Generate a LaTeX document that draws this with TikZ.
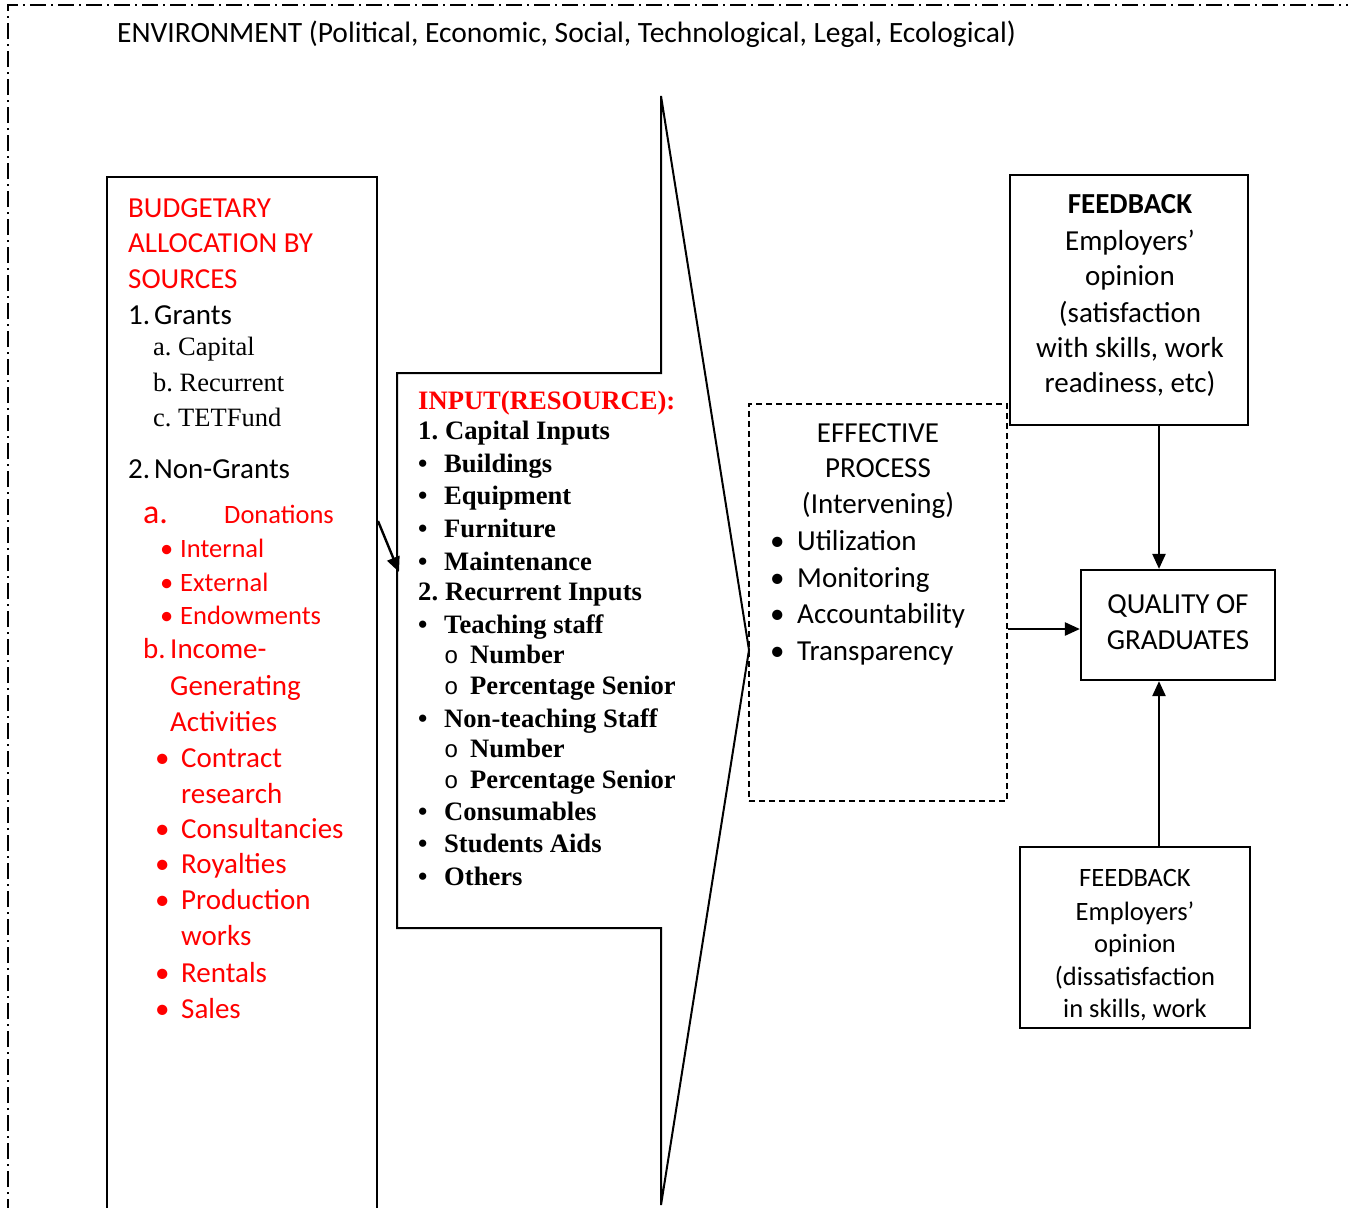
\documentclass[tikz,border=0pt]{standalone}
\usepackage{fontspec}
\setmainfont{Carlito}
\newfontfamily\tnr{Liberation Serif}
\newfontfamily\mymono{Liberation Mono}
\usetikzlibrary{arrows.meta}
\definecolor{wred}{RGB}{255,0,0}
\newcommand\fsz[1]{\fontsize{#1}{#1}\selectfont}
\frenchspacing
\begin{document}
\begin{tikzpicture}[x=1pt,y=-1pt,
  t/.style={inner sep=0pt, anchor=base west},
  tc/.style={inner sep=0pt, anchor=base},
  box/.style={draw, line width=2.2pt, inner sep=0pt},
  arr/.style={-{Triangle[length=15pt,width=13pt]}, line width=2.4pt},
  red/.style={text=wred},
  cal/.style={font=\fsz{29}},
  cals/.style={font=\fsz{26.5}},
  tb/.style={font=\tnr\bfseries\fsz{26.6}},
  tr/.style={font=\tnr\fsz{26.5}},
]
\useasboundingbox (0,0) rectangle (1348,1207);
\fill[white] (0,0) rectangle (1348,1207);

% environment border
\draw[line width=1.8pt, dash pattern=on 16pt off 5pt on 2pt off 5pt] (8,1215) -- (8,5) -- (1355,5);
\node[t, font=\fsz{29.5}] (env) at (117,43) {ENVIRONMENT (Political, Economic, Social, Technological, Legal, Ecological)};

% left box (open at the bottom)
\draw[line width=2.2pt] (107,1215) -- (107,177) -- (377,177) -- (377,1215);
\coordinate (lbout) at (378,521);

\node[t, cal, red] (b1) at (128,217) {BUDGETARY};
\node[t, cal, red] (b2) at (128,252) {ALLOCATION BY};
\node[t, cal, red] (b3) at (128,288) {SOURCES};
\node[t, cal] (g1n) at (128,324) {1.};
\node[t, cal] (g1) at (154,324) {Grants};
\node[t, tr] (ga) at (153,355) {a. Capital};
\node[t, tr] (gb) at (153,391) {b. Recurrent};
\node[t, tr] (gc) at (153,426) {c. TETFund};
\node[t, cal] (g2n) at (128,478) {2.};
\node[t, cal] (g2) at (154,478) {Non-Grants};
\node[t, red, font=\fsz{34}] (na) at (143,523) {a.};
\node[t, cals, red] (nad) at (224,523) {Donations};
\node[t, cals, red] (d1b) at (160,557) {•};
\node[t, cals, red] (d1) at (180,557) {Internal};
\node[t, cals, red] (d2b) at (160,591) {•};
\node[t, cals, red] (d2) at (180,591) {External};
\node[t, cals, red] (d3b) at (160,624) {•};
\node[t, cals, red] (d3) at (180,624) {Endowments};
\node[t, cal, red] (nbn) at (143,658) {b.};
\node[t, cal, red] (nb1) at (170,658) {Income-};
\node[t, cal, red] (nb2) at (170,695) {Generating};
\node[t, cal, red] (nb3) at (170,731) {Activities};
\foreach \y/\w/\b [count=\i] in {767/Contract/1, 803/research/0, 838/Consultancies/1, 873/Royalties/1, 909/Production/1, 945/works/0, 982/Rentals/1, 1018/Sales/1}{
  \ifnum\b=1 \node[t, cal, red] (ib\i) at (155,\y) {•};\fi
  \node[t, cal, red] (it\i) at (181,\y) {\w};
}

% input arrow shape
\draw[line width=2pt] (397,373) -- (661,373) -- (661,96) -- (749,650) -- (661,1205) -- (661,928) -- (397,928) -- cycle;
\coordinate (inin) at (399,572);
\draw[arr] (lbout) -- (inin);

\node[t, tb, red] (in0) at (418,409) {INPUT(RESOURCE):};
\node[t, tb] (in1n) at (418,439) {1.};
\node[t, tb] (in1) at (445,439) {Capital Inputs};
\foreach \y/\w [count=\i] in {472/Buildings, 504/Equipment, 537/Furniture, 570/Maintenance}{
  \node[t, tb] (cb\i) at (418,\y) {•};
  \node[t, tb] (ct\i) at (444,\y) {\w};
}
\node[t, tb] (in2n) at (418,600) {2.};
\node[t, tb] (in2) at (445,600) {Recurrent Inputs};
\foreach \y/\w/\l [count=\i] in {633/Teaching staff/1, 663/Number/2, 694/Percentage Senior/2, 727/Non-teaching Staff/1, 757/Number/2, 788/Percentage Senior/2, 820/Consumables/1, 852/Students Aids/1, 885/Others/1}{
  \ifnum\l=1
    \node[t, tb] (rb\i) at (418,\y) {•};
    \node[t, tb] (rt\i) at (444,\y) {\w};
  \else
    \node[t, font=\mymono\fsz{24}] (rb\i) at (444,\y) {o};
    \node[t, tb] (rt\i) at (470,\y) {\w};
  \fi
}

% effective process
\node[box, dash pattern=on 6pt off 4pt, line width=1.8pt, minimum width=258pt, minimum height=397pt] (proc) at (878,602.5) {};
\node[tc, cal] (p1) at (878,442) {EFFECTIVE};
\node[tc, cal] (p2) at (878,477) {PROCESS};
\node[tc, cal] (p3) at (878,513) {(Intervening)};
\foreach \y/\w [count=\i] in {550/Utilization, 587/Monitoring, 623/Accountability, 660/Transparency}{
  \node[t, cal] (pb\i) at (770,\y) {•};
  \node[t, cal] (pt\i) at (797,\y) {\w};
}

% feedback (top)
\node[box, minimum width=238pt, minimum height=250pt] (fbt) at (1129,300) {};
\node[tc, font=\fsz{29}\bfseries] (f1) at (1130,213) {FEEDBACK};
\node[tc, cal] (f2) at (1130,250) {Employers’};
\node[tc, cal] (f3) at (1130,285) {opinion};
\node[tc, cal] (f4) at (1130,322) {(satisfaction};
\node[tc, cal] (f5) at (1130,357) {with skills, work};
\node[tc, cal] (f6) at (1130,392) {readiness, etc)};

% quality
\node[box, minimum width=194pt, minimum height=110pt] (qual) at (1178,625) {};
\node[tc, cal] (q1) at (1178,613) {QUALITY OF};
\node[tc, cal] (q2) at (1178,649) {GRADUATES};

% feedback (bottom)
\node[box, minimum width=230pt, minimum height=181pt] (fbb) at (1135,937.5) {};
\node[tc, cals] (h1) at (1135,886) {FEEDBACK};
\node[tc, cals] (h2) at (1135,920) {Employers’};
\node[tc, cals] (h3) at (1135,952) {opinion};
\node[tc, cals] (h4) at (1135,985) {(dissatisfaction};
\node[tc, cals] (h5) at (1135,1017) {in skills, work};

% connectors
\draw[arr] (fbt.south -| 1159,0) -- (qual.north -| 1159,0);
\draw[arr] (proc.east |- 0,629) -- (qual.west |- 0,629);
\draw[arr] (fbb.north -| 1159,0) -- (qual.south -| 1159,0);
\end{tikzpicture}
\end{document}
